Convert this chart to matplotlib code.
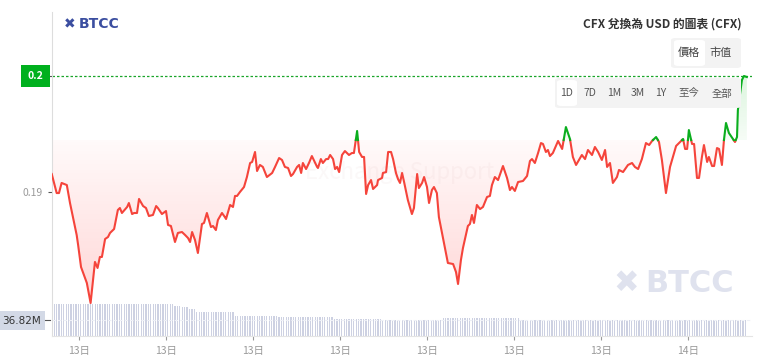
import numpy as np
import matplotlib
matplotlib.use("Agg")
import matplotlib.pyplot as plt
from matplotlib.patches import FancyBboxPatch
from matplotlib.path import Path
import matplotlib.transforms as mtransforms

plt.rcParams['font.family'] = ['Noto Sans CJK TC', 'DejaVu Sans']

# hours since 13日 00:00
hours = [2.06, 2.23, 2.31, 2.40, 2.58, 2.69, 2.79, 2.92, 2.97, 3.07, 3.27, 3.40, 3.55, 3.64, 3.72, 3.79,
         3.90, 4.00, 4.07, 4.21, 4.34, 4.41, 4.48, 4.66, 4.72, 4.83, 4.90, 5.00, 5.07, 5.21, 5.31, 5.41,
         5.55, 5.66, 5.72, 5.86, 6.00, 6.07, 6.17, 6.31, 6.41, 6.55, 6.66, 6.76, 6.83, 6.90, 7.00, 7.10,
         7.24, 7.31, 7.41, 7.55, 7.62, 7.72, 7.79, 7.93, 8.03, 8.07, 8.21, 8.31, 8.38, 8.45, 8.55, 8.69,
         8.79, 8.90, 8.97, 9.07, 9.14, 9.24, 9.34, 9.41, 9.48, 9.66, 9.76, 9.90, 10.00, 10.10, 10.21, 10.31,
         10.38, 10.52, 10.59, 10.66, 10.72, 10.83, 10.93, 11.03, 11.21, 11.24, 11.34, 11.41, 11.52, 11.59,
         11.66, 11.76, 11.83, 11.90, 11.97, 12.07, 12.17, 12.31, 12.41, 12.48, 12.59, 12.66, 12.76, 12.83,
         12.90, 12.97, 13.07, 13.14, 13.28, 13.31, 13.45, 13.48, 13.59, 13.66, 13.76, 13.83, 13.93, 14.00,
         14.07, 14.14, 14.21, 14.34, 14.48, 14.55, 14.66, 14.72, 14.83, 14.90, 15.00, 15.07, 15.17, 15.24,
         15.34, 15.41, 15.55, 15.66, 15.72, 15.90, 16.00, 16.07, 16.17, 16.24, 16.41, 16.48, 16.55, 16.62,
         16.72, 16.83, 16.93, 17.07, 17.17, 17.24, 17.34, 17.45, 17.62, 17.76, 17.86, 17.93, 18.03, 18.14,
         18.31, 18.45, 18.55, 18.62, 18.72, 18.83, 18.93, 19.00, 19.10, 19.17, 19.24, 19.34, 19.52, 19.66,
         19.79, 19.93, 20.03, 20.14, 20.34, 20.45, 20.55, 20.69, 20.79, 20.90, 21.03, 21.14, 21.21, 21.31,
         21.41, 21.55, 21.62, 21.76, 21.93, 22.07, 22.17, 22.28, 22.41, 22.55, 22.66, 22.76, 22.90, 23.00,
         23.10, 23.24, 23.38, 23.59, 23.69, 23.83, 23.90, 23.97, 24.03, 24.14, 24.21, 24.31, 24.38, 24.48,
         24.55, 24.66, 24.72, 24.83, 24.90, 25.00, 25.07, 25.17, 25.24, 25.31, 25.41, 25.62, 25.69, 25.72,
         25.86, 25.93, 26.03]
price = [0.19155, 0.18991, 0.18991, 0.19078, 0.19060, 0.18905, 0.18784, 0.18629, 0.18543, 0.18353,
         0.18216, 0.18043, 0.18397, 0.18345, 0.18440, 0.18440, 0.18595, 0.18612, 0.18647, 0.18681,
         0.18845, 0.18862, 0.18819, 0.18871, 0.18905, 0.18810, 0.18819, 0.18819, 0.18940, 0.18879,
         0.18862, 0.18793, 0.18802, 0.18879, 0.18862, 0.18810, 0.18836, 0.18716, 0.18707, 0.18569,
         0.18647, 0.18655, 0.18629, 0.18603, 0.18569, 0.18655, 0.18586, 0.18474, 0.18724, 0.18733,
         0.18819, 0.18698, 0.18707, 0.18672, 0.18759, 0.18819, 0.18784, 0.18767, 0.18888, 0.18871,
         0.18966, 0.18966, 0.19000, 0.19043, 0.19129, 0.19250, 0.19259, 0.19345, 0.19181, 0.19233,
         0.19216, 0.19172, 0.19129, 0.19164, 0.19216, 0.19293, 0.19276, 0.19216, 0.19207, 0.19138,
         0.19155, 0.19216, 0.19233, 0.19164, 0.19250, 0.19198, 0.19250, 0.19310, 0.19216, 0.19207,
         0.19284, 0.19250, 0.19284, 0.19284, 0.19319, 0.19284, 0.19198, 0.19216, 0.19172, 0.19319,
         0.19353, 0.19319, 0.19336, 0.19336, 0.19526, 0.19345, 0.19302, 0.19302, 0.18983, 0.19060,
         0.19103, 0.19026, 0.19060, 0.19103, 0.19121, 0.19164, 0.19172, 0.19345, 0.19345, 0.19284,
         0.19164, 0.19112, 0.19078, 0.19164, 0.19086, 0.18931, 0.18810, 0.18862, 0.19155, 0.19034,
         0.19078, 0.19129, 0.19043, 0.18905, 0.19017, 0.19043, 0.18991, 0.18784, 0.18603, 0.18457,
         0.18388, 0.18379, 0.18310, 0.18207, 0.18414, 0.18517, 0.18707, 0.18724, 0.18802, 0.18733,
         0.18888, 0.18853, 0.18871, 0.18957, 0.18966, 0.19060, 0.19129, 0.19103, 0.19224, 0.19121,
         0.19017, 0.19043, 0.19009, 0.19086, 0.19095, 0.19138, 0.19267, 0.19284, 0.19250, 0.19336,
         0.19422, 0.19414, 0.19345, 0.19362, 0.19310, 0.19336, 0.19440, 0.19371, 0.19560, 0.19457,
         0.19302, 0.19233, 0.19319, 0.19284, 0.19362, 0.19319, 0.19388, 0.19345, 0.19276, 0.19362,
         0.19216, 0.19250, 0.19078, 0.19129, 0.19190, 0.19172, 0.19233, 0.19250, 0.19216, 0.19198,
         0.19284, 0.19422, 0.19405, 0.19440, 0.19474, 0.19431, 0.19276, 0.18991, 0.19216, 0.19397,
         0.19422, 0.19457, 0.19371, 0.19371, 0.19534, 0.19414, 0.19414, 0.19121, 0.19121, 0.19302,
         0.19405, 0.19259, 0.19302, 0.19224, 0.19224, 0.19379, 0.19371, 0.19233, 0.19448, 0.19595,
         0.19509, 0.19431, 0.19474, 0.19707, 0.19966, 0.20000, 0.19991]
baseline = 0.19448
last_price = 0.2

# volume (millions), read as flat runs of 5-minute bars
vol_levels = [73.6, 72.5, 69.0, 66.0, 62.0, 55.2, 46.0, 43.7, 39.1, 36.8, 41.4, 36.8]
vol_counts = [47, 4, 3, 3, 3, 16, 18, 23, 20, 25, 32, 94]
vol_label = 36.82

tick_pos = [3, 6, 9, 12, 15, 18, 21, 24]
tick_lab = ['13日', '13日', '13日', '13日', '13日', '13日', '13日', '14日']

RED = '#f5443b'
GREEN = '#0aae1e'

t = np.array(hours)
p = np.array(price)

# insert baseline crossings so the two colours meet cleanly
tt, pp = [t[0]], [p[0]]
for i in range(1, len(t)):
    a, b = p[i - 1] - baseline, p[i] - baseline
    if a * b < 0:
        f = a / (a - b)
        tt.append(t[i - 1] + f * (t[i] - t[i - 1]))
        pp.append(baseline)
    tt.append(t[i])
    pp.append(p[i])
tt, pp = np.array(tt), np.array(pp)

fig = plt.figure(figsize=(7.62, 3.64), dpi=100)
ax = fig.add_axes([52 / 762, 28 / 364, 700 / 762, 324 / 364])
ax2 = ax.twinx()
ax.set_zorder(2)
ax.patch.set_visible(False)
ax2.set_zorder(1)

xmin, xmax = 60 / 29, 760 / 29
ymin, ymax = 0.2 - 260 / 11600, 0.2 + 64 / 11600

# volume bars
vol = np.repeat(vol_levels, vol_counts)
vt = t[0] + np.arange(len(vol)) * (5 / 60)
ax2.bar(vt, vol, width=0.042, color='#cdd1e2', align='center')
ax2.set_ylim(0, 324 / 16 * vol_label)
ax2.axhline(vol_label, color='#eef0f6', lw=0.8, ls=(0, (3, 2)))
ax2.axis('off')

# gradient fills clipped to the area between line and baseline
red_poly = ax.fill_between(tt, pp, baseline, where=pp <= baseline, interpolate=True,
                           facecolor='none', edgecolor='none')
green_poly = ax.fill_between(tt, pp, baseline, where=pp >= baseline, interpolate=True,
                             facecolor='none', edgecolor='none')

grad = np.zeros((100, 1, 4))
grad[:, 0, 0], grad[:, 0, 1], grad[:, 0, 2] = 1.0, 0.32, 0.32
grad[:, 0, 3] = np.linspace(0.03, 0.24, 100)
im = ax.imshow(grad, extent=[xmin, xmax, 0.1800, baseline], aspect='auto',
               origin='upper', zorder=1)
im.set_clip_path(Path.make_compound_path(*red_poly.get_paths()), transform=ax.transData)

ggrad = np.zeros((100, 1, 4))
ggrad[:, 0, 0], ggrad[:, 0, 1], ggrad[:, 0, 2] = 0.1, 0.75, 0.15
ggrad[:, 0, 3] = np.linspace(0.16, 0.04, 100)
img = ax.imshow(ggrad, extent=[xmin, xmax, baseline, 0.2005], aspect='auto',
                origin='upper', zorder=1)
img.set_clip_path(Path.make_compound_path(*green_poly.get_paths()), transform=ax.transData)

ax.plot(tt, np.ma.masked_where(pp > baseline + 1e-9, pp), color=RED, lw=1.5, zorder=3,
        solid_joinstyle='round')
ax.plot(tt, np.ma.masked_where(pp < baseline - 1e-9, pp), color=GREEN, lw=1.5, zorder=3,
        solid_joinstyle='round')

ax.axhline(last_price, color='#1aa52a', lw=0.9, ls=(0, (2, 1.6)), zorder=2)

ax.set_xlim(xmin, xmax)
ax.set_ylim(ymin, ymax)
ax.set_yticks([0.19, last_price])
ax.set_yticklabels(['0.19', ''])
ax.set_xticks(tick_pos)
ax.set_xticklabels(tick_lab)
ax.tick_params(axis='both', colors='#9a9a9a', labelsize=7.5, length=3, width=0.8)
ax.tick_params(axis='y', colors='#555555', labelcolor='#9a9a9a')
ax.tick_params(axis='x', pad=4)
for s in ['top', 'right']:
    ax.spines[s].set_visible(False)
ax.spines['left'].set_color('#dddddd')
ax.spines['bottom'].set_color('#e4e4e4')

# price / volume labels on the left axis
blend = mtransforms.blended_transform_factory(fig.transFigure, ax.transData)
ax.text(35.5 / 762, last_price, '0.2', transform=blend, ha='center', va='center',
        color='white', fontsize=7.5, fontweight='bold', zorder=5, clip_on=False,
        bbox=dict(boxstyle='square,pad=0.6', fc='#00b01e', ec='none'))
fig.patches.append(FancyBboxPatch((0, 1 - 330 / 364), 45 / 762, 19 / 364, boxstyle='square,pad=0',
                                  transform=fig.transFigure, fc='#d3d9e6', ec='none'))
fig.text(22 / 762, 1 - 320.5 / 364, '36.82M', ha='center', va='center', fontsize=7.5,
         color='#333333', family=['DejaVu Sans'])
fig.lines.append(plt.Line2D([45 / 762, 50 / 762], [1 - 320 / 364, 1 - 320 / 364],
                            transform=fig.transFigure, color='#555555', lw=0.8))

# header
fig.text(742 / 762, 1 - 24 / 364, 'CFX 兌換為 USD 的圖表 (CFX)', ha='right', va='center',
         fontsize=8.5, fontweight='bold', color='#333333')
fig.text(64 / 762, 1 - 24 / 364, '✖', ha='left', va='center', fontsize=10,
         color='#3b4ea0', family=['DejaVu Sans'])
fig.text(79 / 762, 1 - 24 / 364, 'BTCC', ha='left', va='center', fontsize=10,
         fontweight='bold', color='#3b4ea0', family=['DejaVu Sans'])

# buttons
def box(x0, y0, x1, y1, fc):
    fig.patches.append(FancyBboxPatch((x0 / 762, 1 - y1 / 364), (x1 - x0) / 762, (y1 - y0) / 364,
                                      boxstyle='round,pad=0,rounding_size=0.006',
                                      transform=fig.transFigure, fc=fc, ec='none', zorder=6))

box(671, 38, 741, 68, '#f3f3f3')
box(674, 40, 705, 66, '#ffffff')
fig.text(689 / 762, 1 - 53 / 364, '價格', ha='center', va='center', fontsize=8, color='#444444', zorder=7)
fig.text(721 / 762, 1 - 53 / 364, '市值', ha='center', va='center', fontsize=8, color='#444444', zorder=7)

box(555, 78, 741, 108, '#f3f3f3')
box(557, 80, 577, 106, '#ffffff')
for lab, x in zip(['1D', '7D', '1M', '3M', '1Y', '至今', '全部'],
                  [567, 590, 614, 638, 661, 689, 722]):
    fig.text(x / 762, 1 - 93.5 / 364, lab, ha='center', va='center', fontsize=7.5,
             color='#555555', zorder=7)

# watermarks
fig.text(626 / 762, 1 - 283 / 364, '✖', ha='center', va='center', fontsize=22,
         color='#dfe2ee', family=['DejaVu Sans'], zorder=0.5)
fig.text(645 / 762, 1 - 283 / 364, 'BTCC', ha='left', va='center', fontsize=22,
         fontweight='bold', color='#dfe2ee', family=['DejaVu Sans'], zorder=0.5)
fig.text(400 / 762, 1 - 172 / 364, 'Exchange Support', ha='center', va='center', fontsize=16,
         color='#fbf8f8', zorder=0.5)

fig.savefig('out.png', dpi=100)
